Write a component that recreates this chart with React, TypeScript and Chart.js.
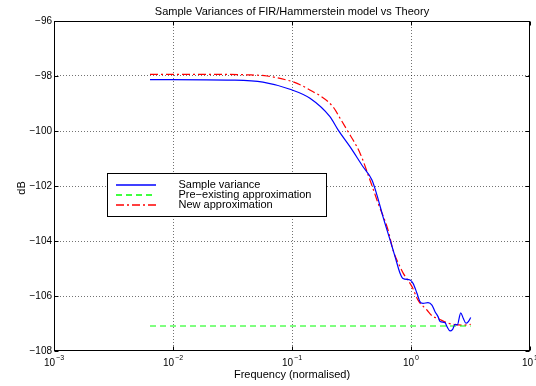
import { useEffect, useRef } from 'react';
import { Chart, registerables } from 'chart.js';

Chart.register(...registerables);

const chartTitle = 'Sample Variances of FIR/Hammerstein model vs Theory';
const xAxisLabel = 'Frequency (normalised)';
const yAxisLabel = 'dB';
const seriesNames = ['Sample variance', 'Pre\u2212existing approximation', 'New approximation'];
const xTickValues = [1e-3, 1e-2, 1e-1, 1, 10];
const xTickExponents = ['\u22123', '\u22122', '\u22121', '0', '1'];
const yTickValues = [-108, -106, -104, -102, -100, -98, -96];

const sampleFreq = [0.00641, 0.0319, 0.057, 0.0962, 0.1416, 0.2084, 0.2438, 0.3069, 0.3954, 0.4699, 0.5176, 0.5821, 0.6668, 0.7345, 0.8091, 0.857, 0.9817, 1.04, 1.122, 1.191, 1.262, 1.39, 1.5, 1.592, 1.687, 1.754, 1.932, 2.009, 2.128, 2.239, 2.344, 2.449, 2.618, 2.748, 2.897, 3.034, 3.177];
const sampleDb = [-98.13, -98.15, -98.22, -98.48, -98.81, -99.48, -99.96, -100.57, -101.3, -101.78, -102.33, -103.12, -103.96, -104.57, -105.17, -105.36, -105.42, -105.54, -105.9, -106.21, -106.27, -106.24, -106.33, -106.57, -106.75, -106.93, -106.97, -107.12, -107.27, -107.21, -107.03, -107.05, -106.61, -106.81, -106.99, -106.93, -106.78];

const preFreq = [0.00641, 3.177];
const preDb = [-107.09, -107.09];

const newFreq = [0.00641, 0.0169, 0.0444, 0.0617, 0.0908, 0.1019, 0.1337, 0.2213, 0.2529, 0.2897, 0.3724, 0.4519, 0.5284, 0.6412, 0.7063, 0.8091, 0.857, 1.019, 1.146, 1.361, 1.531, 1.652, 2.046, 2.344, 2.735, 3.177];
const newDb = [-97.94, -97.94, -97.96, -98.0, -98.15, -98.21, -98.45, -99.12, -99.53, -99.96, -100.8, -101.78, -102.62, -103.6, -104.33, -104.94, -105.16, -105.66, -106.15, -106.51, -106.75, -106.8, -106.99, -107.04, -107.06, -107.03];

const FONT = '"Liberation Sans", Arial, Helvetica, sans-serif';
const SERIES_COLORS = ['rgb(0, 0, 255)', 'rgb(0, 255, 0)', 'rgb(255, 0, 0)'];
const DASHES: number[][] = [[], [6, 4], [8, 3, 2, 3]];

const zip = (xs: number[], ys: number[]) => xs.map((x, i) => ({ x, y: ys[i] }));

const matlabPlugin = {
  id: 'matlabFrame',
  beforeDraw(chart: any) {
    const { ctx, width, height } = chart;
    ctx.save();
    ctx.fillStyle = '#ffffff';
    ctx.fillRect(0, 0, width, height);
    ctx.restore();
  },
  afterDatasetsDraw(chart: any) {
    const { ctx, chartArea: a, scales } = chart;
    const xs = scales.x;
    const ys = scales.y;
    ctx.save();
    ctx.globalAlpha = 1;
    ctx.strokeStyle = '#000';
    ctx.lineWidth = 1;
    ctx.setLineDash([]);
    const L = Math.round(a.left) + 0.5;
    const R = Math.round(a.right) - 0.5;
    const T = Math.round(a.top) + 0.5;
    const B = Math.round(a.bottom) - 0.5;
    ctx.strokeRect(L, T, R - L, B - T);
    const tl = 4;
    ctx.beginPath();
    xTickValues.forEach((v) => {
      const px = Math.round(xs.getPixelForValue(v)) + 0.5;
      ctx.moveTo(px, B);
      ctx.lineTo(px, B - tl);
      ctx.moveTo(px, T);
      ctx.lineTo(px, T + tl);
    });
    yTickValues.forEach((v) => {
      const py = Math.round(ys.getPixelForValue(v)) + 0.5;
      ctx.moveTo(L, py);
      ctx.lineTo(L + tl, py);
      ctx.moveTo(R, py);
      ctx.lineTo(R - tl, py);
    });
    ctx.stroke();

    // tick labels
    ctx.fillStyle = '#000';
    ctx.font = `10px ${FONT}`;
    ctx.textAlign = 'right';
    ctx.textBaseline = 'middle';
    yTickValues.forEach((v) => {
      const py = ys.getPixelForValue(v);
      const t = v < 0 ? '\u2212' + Math.abs(v) : String(v);
      ctx.fillText(t, a.left - 2, py);
    });
    ctx.textAlign = 'left';
    ctx.textBaseline = 'alphabetic';
    xTickValues.forEach((v, i) => {
      const px = xs.getPixelForValue(v);
      ctx.font = `10px ${FONT}`;
      const w1 = ctx.measureText('10').width;
      ctx.font = `7px ${FONT}`;
      const w2 = ctx.measureText(xTickExponents[i]).width;
      const x0 = px - (w1 + w2 + 1) / 2;
      ctx.font = `10px ${FONT}`;
      ctx.fillText('10', x0, a.bottom + 15);
      ctx.font = `7px ${FONT}`;
      ctx.fillText(xTickExponents[i], x0 + w1 + 1, a.bottom + 9);
    });

    // titles
    ctx.font = `11px ${FONT}`;
    ctx.textAlign = 'center';
    const cx = (a.left + a.right) / 2;
    ctx.fillText(chartTitle, cx, a.top - 6);
    ctx.fillText(xAxisLabel, cx, a.bottom + 27);
    ctx.save();
    ctx.translate(25, (a.top + a.bottom) / 2 + 2);
    ctx.rotate(-Math.PI / 2);
    ctx.fillText(yAxisLabel, 0, 0);
    ctx.restore();
    ctx.restore();

    // legend
    ctx.save();
    const bx = Math.round(a.left) + 53.5;
    const by = Math.round(a.top) + 152.5;
    const bw = 219;
    const bh = 43;
    ctx.fillStyle = '#ffffff';
    ctx.fillRect(bx, by, bw, bh);
    ctx.strokeStyle = '#000000';
    ctx.lineWidth = 1;
    ctx.strokeRect(bx, by, bw, bh);
    for (let i = 0; i < seriesNames.length; i++) {
      const ly = Math.round(by + 11 + i * 10);
      const x1 = Math.round(bx + 8);
      const x2 = Math.round(bx + 48);
      ctx.beginPath();
      ctx.setLineDash(DASHES[i]);
      ctx.lineWidth = 1.4;
      ctx.strokeStyle = SERIES_COLORS[i];
      ctx.moveTo(x1, ly);
      ctx.lineTo(x2, ly);
      ctx.stroke();
      ctx.setLineDash([]);
      ctx.fillStyle = '#000000';
      ctx.font = `11px ${FONT}`;
      ctx.textAlign = 'left';
      ctx.textBaseline = 'middle';
      ctx.fillText(seriesNames[i], bx + 71, ly);
    }
    ctx.restore();
  },
};

export default function App() {
  const canvasRef = useRef<HTMLCanvasElement | null>(null);

  useEffect(() => {
    document.body.style.margin = '0';
    const canvas = canvasRef.current;
    if (!canvas) return;
    const gridColor = (ctx: any) => {
      const v = ctx.tick ? ctx.tick.value : null;
      if (v === 1e-3 || v === 10 || v === -108 || v === -96) return 'rgba(0,0,0,0)';
      return 'rgba(0,0,0,0.55)';
    };
    const chart = new Chart(canvas, {
      type: 'line',
      data: {
        datasets: [
          { label: seriesNames[0], data: zip(sampleFreq, sampleDb), borderColor: SERIES_COLORS[0], borderWidth: 1.2, borderDash: DASHES[0], pointRadius: 0, cubicInterpolationMode: 'monotone', fill: false },
          { label: seriesNames[1], data: zip(preFreq, preDb), borderColor: SERIES_COLORS[1], borderWidth: 1.2, borderDash: DASHES[1], pointRadius: 0, fill: false },
          { label: seriesNames[2], data: zip(newFreq, newDb), borderColor: SERIES_COLORS[2], borderWidth: 1.2, borderDash: DASHES[2], pointRadius: 0, cubicInterpolationMode: 'monotone', fill: false },
        ],
      },
      options: {
        responsive: false,
        animation: false,
        devicePixelRatio: 1,
        layout: { padding: { top: 21, right: 6, left: 0, bottom: 0 } },
        plugins: { legend: { display: false }, title: { display: false }, tooltip: { enabled: false } },
        scales: {
          x: {
            type: 'logarithmic',
            min: 1e-3,
            max: 10,
            afterBuildTicks: (s: any) => { s.ticks = xTickValues.map((v) => ({ value: v })); },
            afterFit: (s: any) => { s.height = 35; },
            ticks: { display: false },
            grid: { color: gridColor, lineWidth: 1, drawTicks: false },
            border: { display: false, dash: [1, 2] },
          },
          y: {
            type: 'linear',
            min: -108,
            max: -96,
            afterBuildTicks: (s: any) => { s.ticks = yTickValues.map((v) => ({ value: v })); },
            afterFit: (s: any) => { s.width = 54; },
            ticks: { display: false },
            grid: { color: gridColor, lineWidth: 1, drawTicks: false },
            border: { display: false, dash: [1, 2] },
          },
        },
      },
      plugins: [matlabPlugin],
    } as any);
    return () => chart.destroy();
  }, []);

  return (
    <div style={{ width: 536, height: 386 }}>
      <canvas ref={canvasRef} width={536} height={386} style={{ display: 'block' }} />
    </div>
  );
}
